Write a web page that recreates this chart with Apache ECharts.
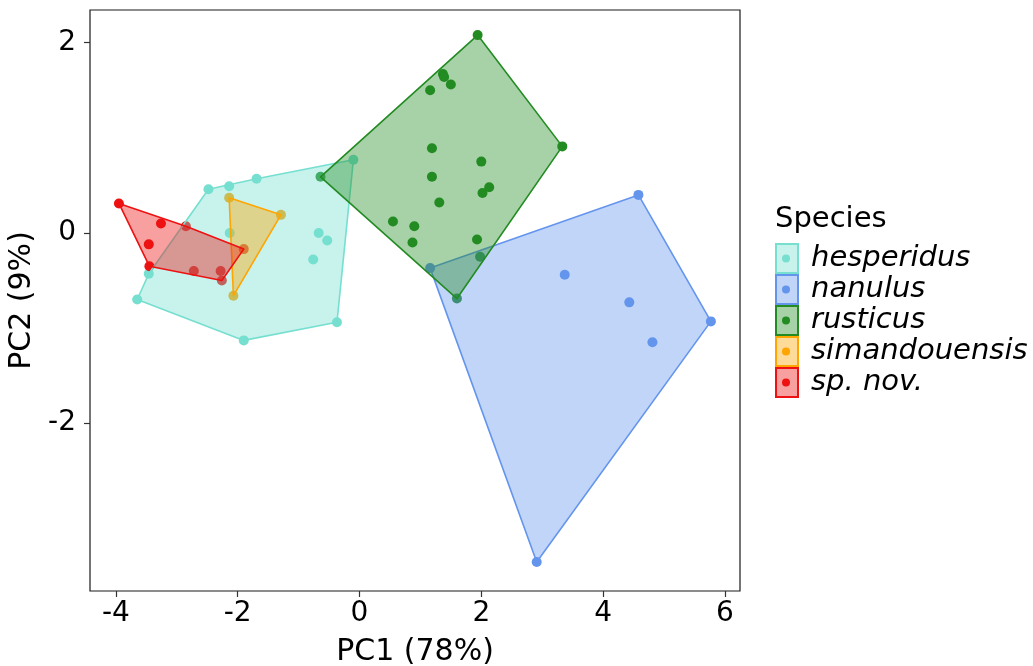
<!DOCTYPE html>
<html><head><meta charset="utf-8">
<script src="https://cdn.jsdelivr.net/npm/echarts@6/dist/echarts.min.js"></script>
<style>html,body{margin:0;padding:0;background:#fff}#c{width:1033px;height:666px}</style>
</head><body><div id="c"></div>
<script>
// ---- data ----
const species = ['hesperidus', 'nanulus', 'rusticus', 'simandouensis', 'sp. nov.'];
const colors = ['#76DFD0', '#6495ED', '#228B22', '#FFA500', '#EE1111'];

const hesperidus = [[-3.65,-0.70],[-3.46,-0.43],[-2.48,0.46],[-2.14,0.49],[-1.69,0.57],[-0.10,0.77],
  [-2.13,0.00],[-0.67,0.00],[-0.53,-0.08],[-0.76,-0.28],[-0.37,-0.94],[-1.90,-1.13]];
const nanulus = [[4.58,0.40],[1.16,-0.37],[3.37,-0.44],[4.43,-0.73],[5.77,-0.93],[4.81,-1.15],[2.91,-3.46]];
const rusticus = [[1.94,2.08],[1.37,1.67],[1.39,1.64],[1.50,1.56],[1.16,1.50],[3.33,0.91],[1.19,0.89],
  [2.00,0.75],[1.19,0.59],[2.13,0.48],[2.02,0.42],[1.31,0.32],[0.55,0.12],[0.90,0.07],[0.87,-0.10],
  [1.93,-0.07],[1.98,-0.25],[1.60,-0.69],[-0.64,0.59]];
const simandouensis = [[-2.14,0.37],[-1.29,0.19],[-2.07,-0.66]];
const spNov = [[-3.95,0.31],[-3.26,0.10],[-3.46,-0.12],[-3.45,-0.35],[-2.85,0.07],[-2.72,-0.40],
  [-2.28,-0.40],[-2.26,-0.50],[-1.90,-0.17]];
const groups = [hesperidus, nanulus, rusticus, simandouensis, spNov];

const xTicks = [-4, -2, 0, 2, 4, 6];
const yTicks = [-2, 0, 2];
const xTitle = 'PC1 (78%)';
const yTitle = 'PC2 (9%)';
const legendTitle = 'Species';

// ---- helpers ----
function hull(pts) {
  const p = pts.slice().sort((a, b) => a[0] - b[0] || a[1] - b[1]);
  const cross = (o, a, b) => (a[0]-o[0])*(b[1]-o[1]) - (a[1]-o[1])*(b[0]-o[0]);
  const lower = [], upper = [];
  for (const q of p) { while (lower.length >= 2 && cross(lower[lower.length-2], lower[lower.length-1], q) <= 0) lower.pop(); lower.push(q); }
  for (let i = p.length - 1; i >= 0; i--) { const q = p[i]; while (upper.length >= 2 && cross(upper[upper.length-2], upper[upper.length-1], q) <= 0) upper.pop(); upper.push(q); }
  upper.pop(); lower.pop();
  return lower.concat(upper);
}
function rgba(hex, a) {
  const n = parseInt(hex.slice(1), 16);
  return `rgba(${(n>>16)&255},${(n>>8)&255},${n&255},${a})`;
}
const FONT = 'DejaVu Sans';
const FILL_A = 0.4;

const series = [];
groups.forEach((g, i) => {
  series.push({
    type: 'scatter', name: species[i], data: g, symbolSize: 10, z: 2, silent: true,
    itemStyle: { color: colors[i], opacity: 1 }
  });
});
groups.forEach((g, i) => {
  const h = hull(g);
  series.push({
    type: 'custom', name: species[i], data: h, z: 3 + i, silent: true,
    encode: { x: 0, y: 1 },
    renderItem: function (params, api) {
      if (params.dataIndex !== 0) return null;
      return {
        type: 'polygon',
        shape: { points: h.map(p => api.coord(p)) },
        style: { fill: rgba(colors[i], FILL_A), stroke: colors[i], lineWidth: 1.6, lineJoin: 'round' }
      };
    }
  });
});

const chart = echarts.init(document.getElementById('c'), null, { renderer: 'canvas' });
chart.setOption({
  animation: false,
  backgroundColor: '#fff',
  title: {
    text: legendTitle, left: 775, top: 205, padding: 0,
    textStyle: { fontFamily: FONT, fontSize: 29, fontWeight: 'normal', color: '#000' }
  },
  legend: [{
    orient: 'vertical', left: 775, top: 243, padding: 0, itemGap: 0,
    itemWidth: 22, itemHeight: 29, icon: 'rect', selectedMode: false,
    textStyle: { fontFamily: FONT, fontSize: 29, fontStyle: 'italic', color: '#000', lineHeight: 31, padding: [0, 0, 0, 8] },
    data: species.map((s, i) => ({ name: s, itemStyle: { color: rgba(colors[i], FILL_A), borderColor: colors[i], borderWidth: 2 } }))
  }, {
    orient: 'vertical', left: 782, top: 254.5, padding: 0, itemGap: 23,
    itemWidth: 8, itemHeight: 8, icon: 'circle', selectedMode: false,
    formatter: function () { return ''; },
    textStyle: { fontSize: 1 },
    data: species.map((s, i) => ({ name: s, itemStyle: { color: colors[i], borderWidth: 0 } }))
  }],
  grid: {
    left: 90, top: 10, width: 650, height: 581, show: true, containLabel: false, outerBoundsMode: 'none',
    borderColor: '#1a1a1a', borderWidth: 1.2, backgroundColor: 'transparent'
  },
  xAxis: {
    type: 'value', min: -4.425, max: 6.248, position: 'bottom',
    name: xTitle, nameLocation: 'middle', nameGap: 46,
    nameTextStyle: { fontFamily: FONT, fontSize: 30, color: '#000' },
    axisLine: { show: false, onZero: false },
    splitLine: { show: false },
    axisTick: { show: true, length: 6, inside: false, customValues: xTicks, lineStyle: { color: '#333', width: 1.2 } },
    axisLabel: { customValues: xTicks, margin: 9, fontFamily: FONT, fontSize: 28, color: '#000' }
  },
  yAxis: {
    type: 'value', min: -3.765, max: 2.344, position: 'left',
    name: yTitle, nameLocation: 'middle', nameGap: 43, nameRotate: 90,
    nameTextStyle: { fontFamily: FONT, fontSize: 30, color: '#000' },
    axisLine: { show: false, onZero: false },
    splitLine: { show: false },
    axisTick: { show: true, length: 6, inside: false, customValues: yTicks, lineStyle: { color: '#333', width: 1.2 } },
    axisLabel: { customValues: yTicks, margin: 14, fontFamily: FONT, fontSize: 28, color: '#000' }
  },
  series: series
});
</script>
</body></html>
